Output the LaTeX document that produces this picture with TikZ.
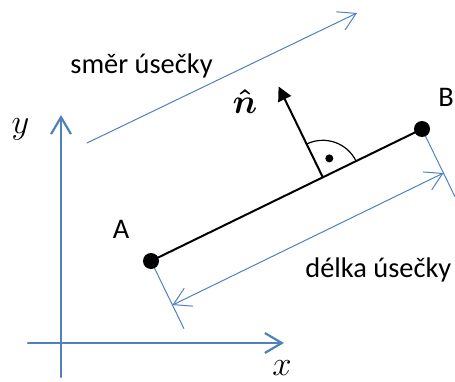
\documentclass[tikz,border=0pt]{standalone}
\usepackage{amsmath,amssymb}
\usepackage{fontspec}
\setmainfont{Carlito}
\usetikzlibrary{arrows.meta,calc}
\definecolor{cblue}{HTML}{4F81BD}

\begin{document}
\begin{tikzpicture}[x=0.5pt, y=0.5pt, line cap=round,
    font=\fontsize{14.2}{17}\selectfont, inner sep=0pt,
    bhead/.tip={Straight Barb[length=8.5pt, width=10pt]},
    thinblue/.style={cblue, line width=0.5pt},
    axis/.style={cblue, line width=1.1pt, -bhead},
    mathlbl/.style={anchor=base, font=\fontsize{16}{19}\selectfont}]
  \useasboundingbox (0,0) rectangle (455,381);
  % points of the segment
  \coordinate (A) at (151,120);
  \coordinate (B) at (422,252);
  \coordinate (F) at ($(A)!0.634!(B)$);
  \coordinate (N) at ($(F)!50.5pt!90:(B)$);
  % axes
  \coordinate (xs) at (28,38);
  \coordinate (xe) at (284,38);
  \coordinate (ys) at (61,4);
  \coordinate (ye) at (61,266);
  \draw[axis] (xs) -- (xe);
  \draw[axis] (ys) -- (ye);
  % direction of the segment
  \coordinate (ds) at (87,238);
  \coordinate (de) at (357,368);
  \draw[thinblue, -bhead] (ds) -- (de);
  % extension lines and length
  \coordinate (A1) at ($(A)!4pt!-90:(B)$);
  \coordinate (A2) at ($(A)!37.5pt!-90:(B)$);
  \coordinate (B1) at ($(B)!4pt!90:(A)$);
  \coordinate (B2) at ($(B)!37.5pt!90:(A)$);
  \coordinate (Ad) at ($(A)!24.5pt!-90:(B)$);
  \coordinate (Bd) at ($(B)!24.5pt!90:(A)$);
  \draw[thinblue] (A1) -- (A2);
  \draw[thinblue] (B1) -- (B2);
  \draw[thinblue, bhead-bhead] (Ad) -- (Bd);
  % segment and normal
  \draw[line width=1pt] (A) -- (B);
  \draw[line width=1pt, -{Triangle[length=7pt, width=7pt]}] (F) -- (N);
  \draw[line width=0.6pt] (F) ++(26:18.5pt) arc[start angle=26, end angle=116, radius=18.5pt];
  \fill ($(F)+(71:10pt)$) circle (2pt);
  \fill (A) circle (4pt);
  \fill (B) circle (4pt);
  % labels
  \node[anchor=base] (lA) at (121,143) {A};
  \node[anchor=base] (lB) at (446,275) {B};
  \node[mathlbl] (ln) at (245,268) {$\boldsymbol{\hat{n}}$};
  \node[mathlbl] (ly) at (20.5,248) {$y$};
  \node[mathlbl] (lx) at (282,6) {$x$};
  \node[anchor=base west] (smer) at (70,307) {směr úsečky};
  \node[anchor=base west] (delka) at (305,104) {délka úsečky};
\end{tikzpicture}
\end{document}
